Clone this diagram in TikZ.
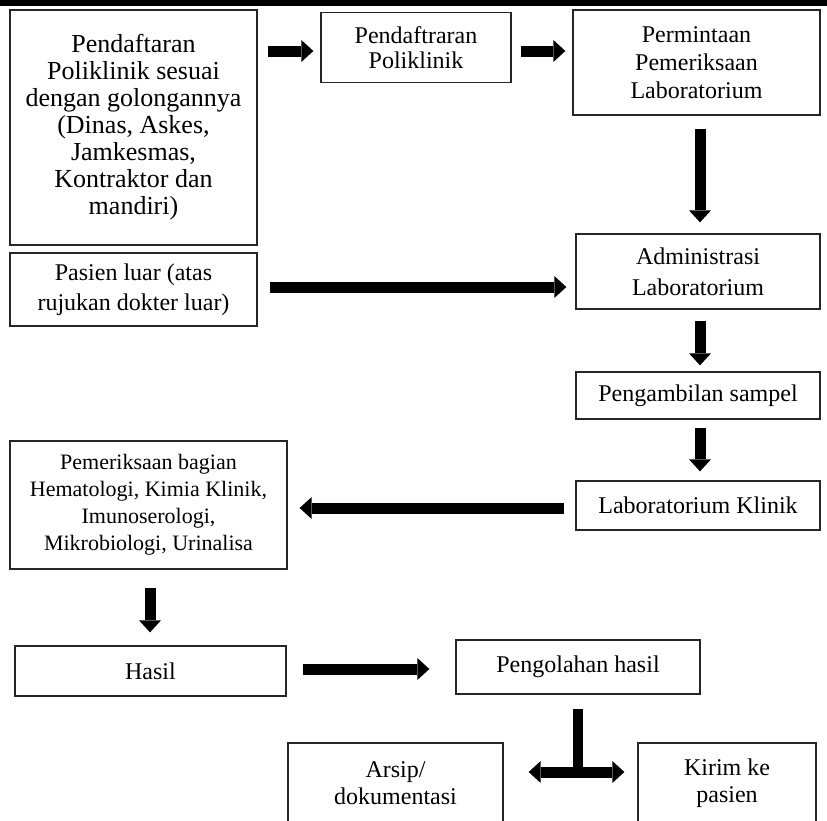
\documentclass[tikz,border=0pt]{standalone}
\usepackage{fontspec}
\setmainfont{Liberation Serif}
\usetikzlibrary{arrows.meta}
\begin{document}
\begin{tikzpicture}[x=1pt,y=-1pt,
  box/.style={draw=black!85, line width=1.3pt, align=center, inner sep=0pt, fill=white,
    font=\fontsize{24}{29}\selectfont},
  fat/.style={line width=11pt, -{Triangle[length=12pt,width=22pt,line width=0pt]}},
  fatboth/.style={line width=11pt, {Triangle[length=12pt,width=22pt,line width=0pt]}-{Triangle[length=12pt,width=22pt,line width=0pt]}},
  stem/.style={line width=10pt}]
\useasboundingbox (0,0) rectangle (827,820);
\fill[white] (0,0) rectangle (827,820);
\clip (0,0) rectangle (827,820);
% top rule
\coordinate (rl) at (0,3);
\coordinate (rr) at (827,3);
\draw[line width=6pt] (rl) -- (rr);
% boxes
\node[box, minimum width=247pt, minimum height=235pt, font=\fontsize{26}{27}\selectfont] (b1) at (133.5,127.5)
  {Pendaftaran\\Poliklinik sesuai\\dengan golongannya\\(Dinas, Askes,\\Jamkesmas,\\Kontraktor dan\\mandiri)};
\node[box, minimum width=190pt, minimum height=70pt, font=\fontsize{24}{25}\selectfont] (b2) at (416,47.5)
  {Pendaftraran\\Poliklinik};
\node[box, minimum width=247pt, minimum height=105pt, font=\fontsize{24}{28}\selectfont] (b3) at (696.5,62.5)
  {Permintaan\\Pemeriksaan\\Laboratorium};
\node[box, minimum width=244pt, minimum height=75pt, font=\fontsize{24}{31}\selectfont] (adm) at (698,271.5)
  {Administrasi\\Laboratorium};
\node[box, minimum width=247pt, minimum height=73pt, font=\fontsize{24}{30}\selectfont] (pas) at (133.5,289.5)
  {Pasien luar (atas\\rujukan dokter luar)};
\node[box, minimum width=244pt, minimum height=47pt] (amb) at (698,395.5)
  {Pengambilan sampel};
\node[box, minimum width=244pt, minimum height=49pt] (lab) at (698,505.5)
  {Laboratorium Klinik};
\node[box, minimum width=277pt, minimum height=128pt, font=\fontsize{22}{27}\selectfont] (per) at (148.5,505)
  {Pemeriksaan bagian\\Hematologi, Kimia Klinik,\\Imunoserologi,\\Mikrobiologi, Urinalisa};
\node[box, minimum width=271pt, minimum height=50pt] (has) at (150.5,671)
  {Hasil};
\node[box, minimum width=244pt, minimum height=54pt] (olah) at (578,667)
  {Pengolahan hasil};
\node[box, minimum width=215pt, minimum height=81pt, font=\fontsize{24}{27}\selectfont] (arsip) at (395.5,783.5)
  {Arsip/\\dokumentasi};
\node[box, minimum width=178pt, minimum height=81pt, font=\fontsize{24}{27}\selectfont] (kirim) at (727,783.5)
  {Kirim ke\\pasien};
% arrows
\draw[fat, shorten <=10pt, shorten >=7pt] (b1.east |- 0,51) -- (b2.west |- 0,51);
\draw[fat, shorten <=9pt, shorten >=7pt] (b2.east |- 0,51) -- (b3.west |- 0,51);
\draw[fat, shorten <=13pt, shorten >=11pt] (b3.south -| 700,0) -- (adm.north -| 700,0);
\draw[fat, shorten <=12pt, shorten >=9pt] (pas.east |- 0,287) -- (adm.west |- 0,287);
\draw[fat, shorten <=11pt, shorten >=6pt] (adm.south -| 700,0) -- (amb.north -| 700,0);
\draw[fat, shorten <=8pt, shorten >=9pt] (amb.south -| 700,0) -- (lab.north -| 700,0);
\draw[fat, shorten <=11pt, shorten >=12pt] (lab.west |- 0,508) -- (per.east |- 0,508);
\draw[fat, shorten <=18pt, shorten >=13pt] (per.south -| 150,0) -- (has.north -| 150,0);
\draw[fat, shorten <=16pt, shorten >=26pt] (has.east |- 0,669) -- (olah.west |- 0,669);
\coordinate (split) at (578,772);
\draw[stem, shorten <=14pt] (olah.south) -- (split);
\draw[fatboth, shorten <=25pt, shorten >=13pt] (split -| arsip.east) -- (split -| kirim.west);
\end{tikzpicture}
\end{document}
